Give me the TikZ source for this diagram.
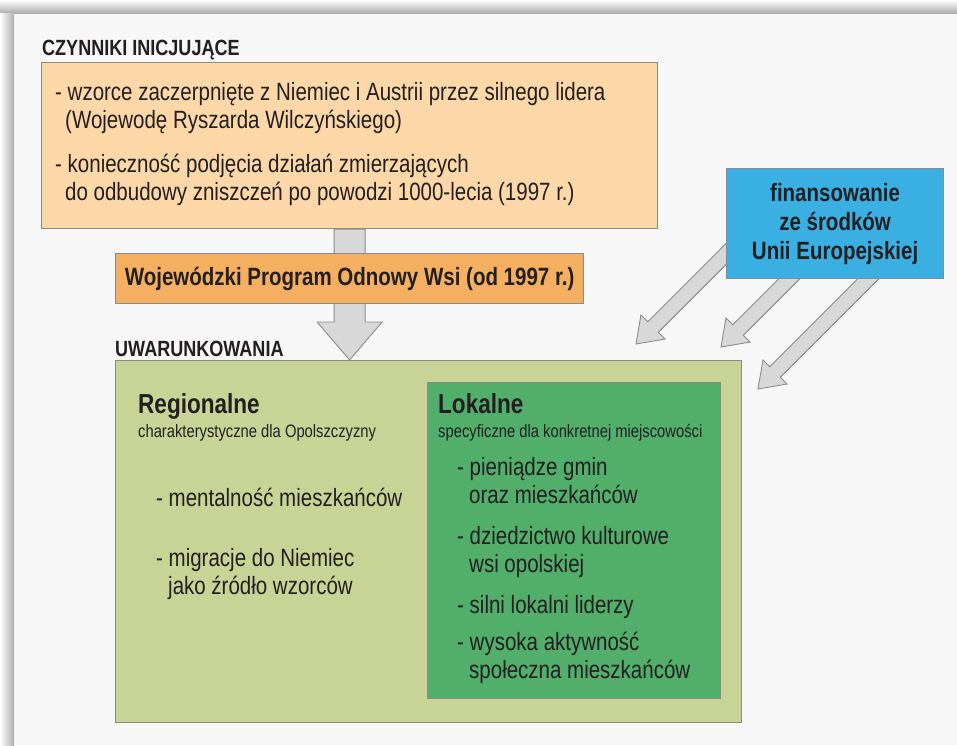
\documentclass[tikz,border=0pt]{standalone}
\usepackage{fontspec}
\setmainfont{Liberation Sans}[FakeStretch=0.82]
\usetikzlibrary{calc}

\definecolor{peach}{RGB}{252,215,168}
\definecolor{orangebar}{RGB}{245,175,96}
\definecolor{paleolive}{RGB}{200,211,150}
\definecolor{leafgreen}{RGB}{81,175,107}
\definecolor{skyblue}{RGB}{58,176,226}
\definecolor{arrowgray}{RGB}{216,216,216}
\definecolor{edgegray}{RGB}{138,138,138}
\definecolor{ink}{RGB}{35,31,32}
\definecolor{paper}{RGB}{247,247,247}

\tikzset{box/.style={rectangle,draw=edgegray,line width=1.2pt,anchor=north west,inner sep=0pt,text=ink,align=center},
  txt/.style={inner sep=0pt,anchor=base west,align=left,text=ink,font=\fontsize{25}{28}\selectfont},
  small/.style={txt,font=\fontsize{18}{21}\selectfont},
  caps/.style={txt,font=\bfseries\fontsize{22}{26}\selectfont},
  heading/.style={txt,font=\bfseries\fontsize{27.5}{31}\selectfont},
  fat/.style={fill=arrowgray,draw=black!45,line width=0.9pt,line join=miter}}

% block arrow: tail, tip, half shaft, half head, head length
\newcommand{\fatarrow}[5]{%
  \coordinate (fa) at ($(#2)!#5!(#1)$);
  \draw[fat] ($(#1)!#3!90:(#2)$) -- ($(fa)!#3!90:(#2)$) -- ($(fa)!#4!90:(#2)$) -- (#2)
    -- ($(fa)!#4!-90:(#2)$) -- ($(fa)!#3!-90:(#2)$) -- ($(#1)!#3!-90:(#2)$) -- cycle;}

\begin{document}
\begin{tikzpicture}[x=1pt,y=-1pt]
\useasboundingbox (0,0) rectangle (957,745);
\fill[paper] (0,0) rectangle (957,745);
\shade[top color=white,bottom color=black!32] (0,0) rectangle (957,13);
\shade[left color=white,right color=black!32] (0,13) rectangle (14,745);

% initiating factors (two-line nodes sit on their last baseline)
\node[caps] (initlbl) at (42,55) {CZYNNIKI INICJUJĄCE};
\node[box,fill=peach,minimum width=616,minimum height=166] (init) at (41,62) {};
\node[txt] (item1) at (55,128) {- wzorce zaczerpnięte z Niemiec i Austrii przez silnego lidera\\\hspace*{10pt}(Wojewodę Ryszarda Wilczyńskiego)};
\node[txt] (item2) at (55,200) {- konieczność podjęcia działań zmierzających\\\hspace*{10pt}do odbudowy zniszczeń po powodzi 1000-lecia (1997 r.)};

% conditions
\node[box,fill=paleolive,minimum width=626,minimum height=362] (cond) at (115,360) {};
\coordinate (stemtip) at (init.south |- cond.north);
\fatarrow{init.south}{stemtip}{15.5pt}{32.5pt}{38pt}

\node[box,fill=orangebar,minimum width=468,minimum height=50,font=\bfseries\fontsize{25}{28}\selectfont] (program) at (115,253) {Wojewódzki Program Odnowy Wsi (od 1997 r.)};
\node[caps] (condlbl) at (115,356) {UWARUNKOWANIA};

\node[heading] (reg) at (138,413) {Regionalne};
\node[small] (regsub) at (138,437) {charakterystyczne dla Opolszczyzny};
\node[txt] (reg1) at (156,506) {- mentalność mieszkańców};
\node[txt] (reg2) at (156,594) {- migracje do Niemiec\\\hspace*{12pt}jako źródło wzorców};

\node[box,fill=leafgreen,minimum width=293,minimum height=316] (local) at (427,382) {};
\node[heading] (loc) at (438,413) {Lokalne};
\node[small] (locsub) at (438,437) {specyficzne dla konkretnej miejscowości};
\node[txt] (loc1) at (457,503) {- pieniądze gmin\\\hspace*{12pt}oraz mieszkańców};
\node[txt] (loc2) at (457,572) {- dziedzictwo kulturowe\\\hspace*{12pt}wsi opolskiej};
\node[txt] (loc3) at (457,613) {- silni lokalni liderzy};
\node[txt] (loc4) at (457,678) {- wysoka aktywność\\\hspace*{12pt}społeczna mieszkańców};

% EU funding
\coordinate (f1) at (746,234);
\coordinate (t1) at (636,344);
\coordinate (f2) at (821,247);
\coordinate (t2) at (721,347);
\coordinate (f3) at (898,249);
\coordinate (t3) at (758,389);
\fatarrow{f1}{t1}{7.5pt}{17pt}{24pt}
\fatarrow{f2}{t2}{7.5pt}{17pt}{24pt}
\fatarrow{f3}{t3}{7.5pt}{17pt}{24pt}
\node[box,fill=skyblue,minimum width=217,minimum height=110,font=\bfseries\fontsize{25}{29}\selectfont] (fund) at (726,168) {finansowanie\\ze środków\\Unii Europejskiej};
\end{tikzpicture}
\end{document}
